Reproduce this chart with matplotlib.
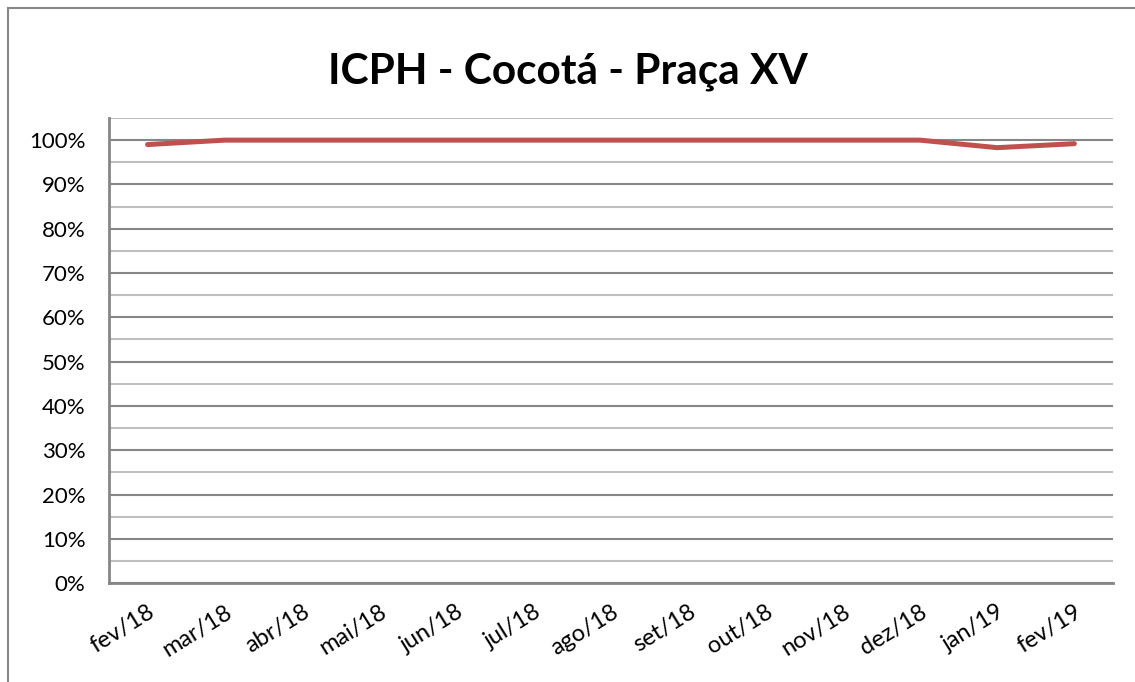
import matplotlib.pyplot as plt
from matplotlib.patches import Rectangle
from matplotlib.ticker import MultipleLocator, PercentFormatter

meses = ["fev/18", "mar/18", "abr/18", "mai/18", "jun/18", "jul/18", "ago/18",
         "set/18", "out/18", "nov/18", "dez/18", "jan/19", "fev/19"]
icph = [0.990, 1.0, 1.0, 1.0, 1.0, 1.0, 1.0, 1.0, 1.0, 1.0, 1.0, 0.983, 0.992]

plt.rcParams["font.family"] = ["Lato", "DejaVu Sans"]

fig = plt.figure(figsize=(11.35, 6.82), dpi=100)
ax = fig.add_axes([0.096, 0.145, 0.8846, 0.682])

# borda externa do gráfico
fig.patches.append(Rectangle((7.5 / 1135, -0.05), 1.2, 1 - 7.5 / 682 + 0.05,
                             transform=fig.transFigure, fill=False,
                             edgecolor="#868686", linewidth=1.5))

x = range(len(meses))
ax.plot(x, icph, color="#C0504D", linewidth=3.6, solid_capstyle="round", zorder=3)

ax.set_xlim(-0.5, len(meses) - 0.5)
ax.set_ylim(0, 1.05)
ax.yaxis.set_major_locator(MultipleLocator(0.1))
ax.yaxis.set_minor_locator(MultipleLocator(0.05))
ax.yaxis.set_major_formatter(PercentFormatter(1.0, decimals=0))
ax.grid(which="major", axis="y", color="#868686", linewidth=1.5)
ax.grid(which="minor", axis="y", color="#BFBFBF", linewidth=1.5)
ax.set_axisbelow(True)

ax.set_xticks(list(x))
ax.set_xticklabels(meses, rotation=32, ha="right", rotation_mode="anchor")
ax.tick_params(axis="both", which="both", length=0, labelsize=16)
ax.tick_params(axis="x", labelsize=17, pad=13)
ax.tick_params(axis="y", pad=17)

for s in ["top", "right"]:
    ax.spines[s].set_visible(False)
for s in ["left", "bottom"]:
    ax.spines[s].set_color("#868686")
    ax.spines[s].set_linewidth(2)

fig.text(0.5, 0.895, "ICPH - Cocotá - Praça XV", ha="center", va="center",
         fontsize=30.5, fontweight="bold")

fig.savefig("out.png", dpi=100)
